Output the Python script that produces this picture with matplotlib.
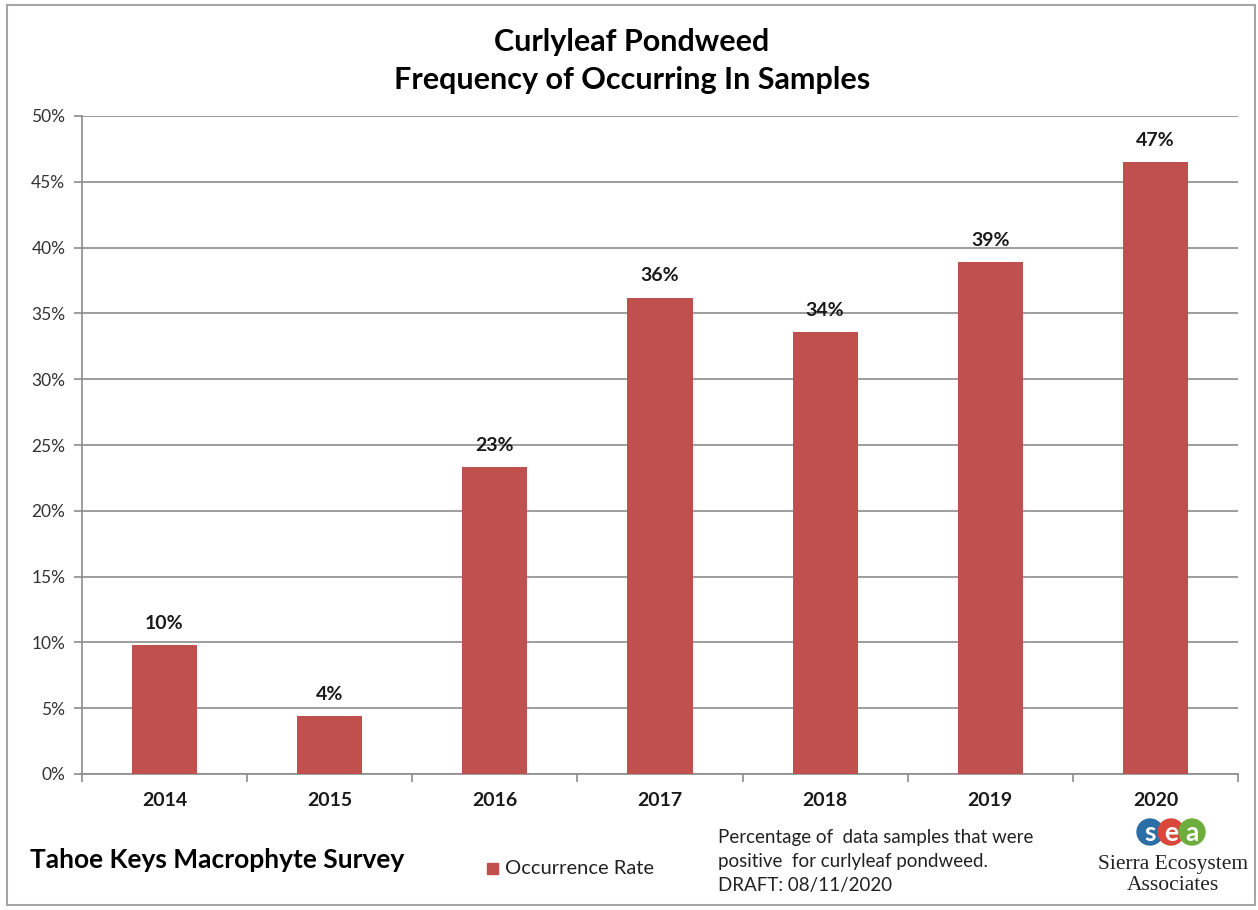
import matplotlib.pyplot as plt
from matplotlib.patches import Rectangle, Circle

# Data
years = ['2014', '2015', '2016', '2017', '2018', '2019', '2020']
rates = [9.8, 4.4, 23.3, 36.2, 33.6, 38.9, 46.5]
labels = ['10%', '4%', '23%', '36%', '34%', '39%', '47%']
yticks = [0, 5, 10, 15, 20, 25, 30, 35, 40, 45, 50]

bar_color = '#C0504D'
grid_color = '#8C8C8C'
font = 'Lato'

W, H = 1258, 910
fig = plt.figure(figsize=(W / 100, H / 100), dpi=100)

# outer border
fig.patches.append(Rectangle((7 / W, 1 - 905 / H), (1255 - 7) / W, (905 - 5) / H,
                             transform=fig.transFigure, fill=False,
                             edgecolor='#A6A6A6', linewidth=1.5))

ax = fig.add_axes([82 / W, 1 - 774 / H, (1238 - 82) / W, (774 - 116) / H])
x = list(range(len(years)))
ax.bar(x, rates, width=0.394, color=bar_color, zorder=3)

for xi, v, lab in zip(x, rates, labels):
    ax.text(xi, v + 1.0, lab, ha='center', va='bottom', fontsize=14,
            fontweight='bold', family=font, color='#1a1a1a')

ax.set_xlim(-0.5, len(years) - 0.5)
ax.set_ylim(0, 50)
ax.set_yticks(yticks)
ax.set_yticklabels([f'{t}%' for t in yticks], fontsize=12.5, family=font, color='#333333')
ax.yaxis.grid(True, color=grid_color, linewidth=1.2, zorder=0)
ax.set_axisbelow(True)

ax.set_xticks(x)
ax.set_xticklabels(years, fontsize=14, fontweight='bold', family=font, color='#1a1a1a')
ax.set_xticks([i + 0.5 for i in x[:-1]] + [-0.5, len(years) - 0.5], minor=True)
ax.tick_params(axis='x', which='major', length=0, pad=13)
ax.tick_params(axis='x', which='minor', length=6, color=grid_color, width=1.2)
ax.tick_params(axis='y', length=6, color=grid_color, width=1.2, pad=6)

for s in ['top', 'right']:
    ax.spines[s].set_visible(False)
for s in ['left', 'bottom']:
    ax.spines[s].set_color(grid_color)
    ax.spines[s].set_linewidth(1.2)

# titles and annotations
fig.text(632 / W, 1 - 42 / H, 'Curlyleaf Pondweed', ha='center', va='center',
         fontsize=22, fontweight='bold', family=font)
fig.text(632 / W, 1 - 80 / H, 'Frequency of Occurring In Samples', ha='center', va='center',
         fontsize=22, fontweight='bold', family=font)

fig.text(30 / W, 1 - 860 / H, 'Tahoe Keys Macrophyte Survey', ha='left', va='center',
         fontsize=19, fontweight='bold', family=font)

fig.patches.append(Rectangle((487 / W, 1 - 874 / H), 11 / W, 11 / H,
                             transform=fig.transFigure, color=bar_color))
fig.text(505 / W, 1 - 868 / H, 'Occurrence Rate', ha='left', va='center',
         fontsize=14.5, family=font, color='#222222')

fig.text(718 / W, 1 - 838 / H, 'Percentage of  data samples that were', ha='left', va='center',
         fontsize=13.5, family=font, color='#222222')
fig.text(718 / W, 1 - 862 / H, 'positive  for curlyleaf pondweed.', ha='left', va='center',
         fontsize=13.5, family=font, color='#222222')
fig.text(718 / W, 1 - 886 / H, 'DRAFT: 08/11/2020', ha='left', va='center',
         fontsize=13.5, family=font, color='#222222')

# sea logo
logo_cols = ['#2A6EA6', '#D9483B', '#6CAE3E']
for i, (ch, c) in enumerate(zip('sea', logo_cols)):
    cx = (1150 + i * 21) / W
    cy = 1 - 832 / H
    fig.patches.append(Circle((cx * W, cy * H), 13, transform=None, color=c))
    fig.text(cx, cy - 1 / H, ch, ha='center', va='center', fontsize=19, fontweight='bold',
             color='white', family=font)
fig.text(1173 / W, 1 - 864 / H, 'Sierra Ecosystem', ha='center', va='center',
         fontsize=15.5, family='Liberation Serif', color='#222222')
fig.text(1173 / W, 1 - 886 / H, 'Associates', ha='center', va='center',
         fontsize=15.5, family='Liberation Serif', color='#222222')

fig.savefig('out.png', dpi=100)
